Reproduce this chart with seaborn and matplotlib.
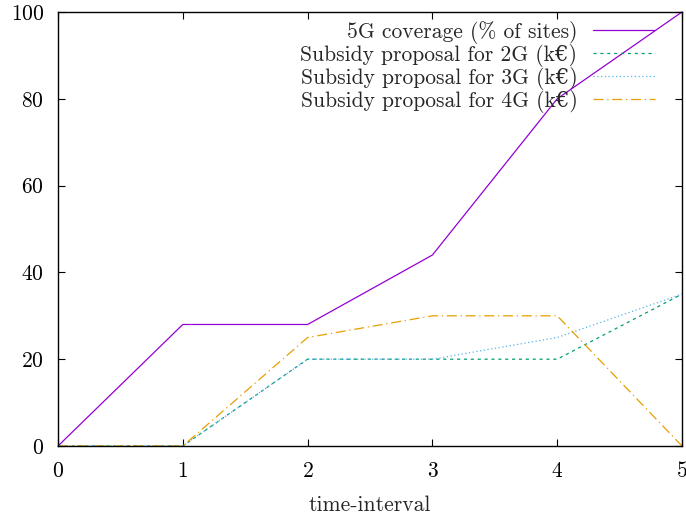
import matplotlib
matplotlib.use("Agg")
from matplotlib import pyplot as plt
import pandas as pd
import seaborn as sns

interval = [0, 1, 2, 3, 4, 5]
cov_5g = [0, 28, 28, 44, 80, 100]
sub_2g = [0, 0, 20, 20, 20, 35]
sub_3g = [0, 0, 20, 20, 25, 35]
sub_4g = [0, 0, 25, 30, 30, 0]

labels = ["5G coverage (% of sites)",
          "Subsidy proposal for 2G (k€)",
          "Subsidy proposal for 3G (k€)",
          "Subsidy proposal for 4G (k€)"]
colors = ["#9400d3", "#009e73", "#56b4e9", "#e69f00"]
dashes = [(None, None), (2.5, 3), (1, 2), (8, 3, 1, 3)]

sns.set_style("ticks")
plt.rcParams["font.family"] = ["cmr10", "DejaVu Serif"]
plt.rcParams["axes.formatter.use_mathtext"] = True
plt.rcParams["mathtext.fontset"] = "cm"

fs = 15.5
fig = plt.figure(figsize=(6.86, 5.19), dpi=100)
ax = fig.add_axes([58 / 686, 1 - 446 / 519, 624 / 686, 434 / 519])

for vals, lab, col, d in zip([cov_5g, sub_2g, sub_3g, sub_4g], labels, colors, dashes):
    df = pd.DataFrame({"t": interval, "v": vals})
    sns.lineplot(data=df, x="t", y="v", color=col, label=lab, lw=0.9, ax=ax,
                 clip_on=False)
    if d[0] is not None:
        ax.lines[-1].set_dashes(d)

ax.set_xlim(0, 5)
ax.set_ylim(0, 100)
ax.set_xticks(interval)
ax.set_yticks([0, 20, 40, 60, 80, 100])
ax.tick_params(direction="in", top=True, right=True, length=5, width=0.8,
               labelsize=fs, colors="black")
ax.tick_params(axis="x", pad=11)
ax.tick_params(axis="y", pad=10)
for s in ax.spines.values():
    s.set_linewidth(1.0)
    s.set_color("black")
ax.set_xlabel("time-interval", fontsize=fs, labelpad=10)
ax.set_ylabel("")

ax.legend(loc="upper right", bbox_to_anchor=(1 - 27 / 624, 1 - 9 / 434),
          frameon=False, markerfirst=False, fontsize=fs,
          handlelength=2.9, handletextpad=0.7, labelspacing=0.0,
          borderpad=0, borderaxespad=0)

fig.savefig("out.png", dpi=100)
